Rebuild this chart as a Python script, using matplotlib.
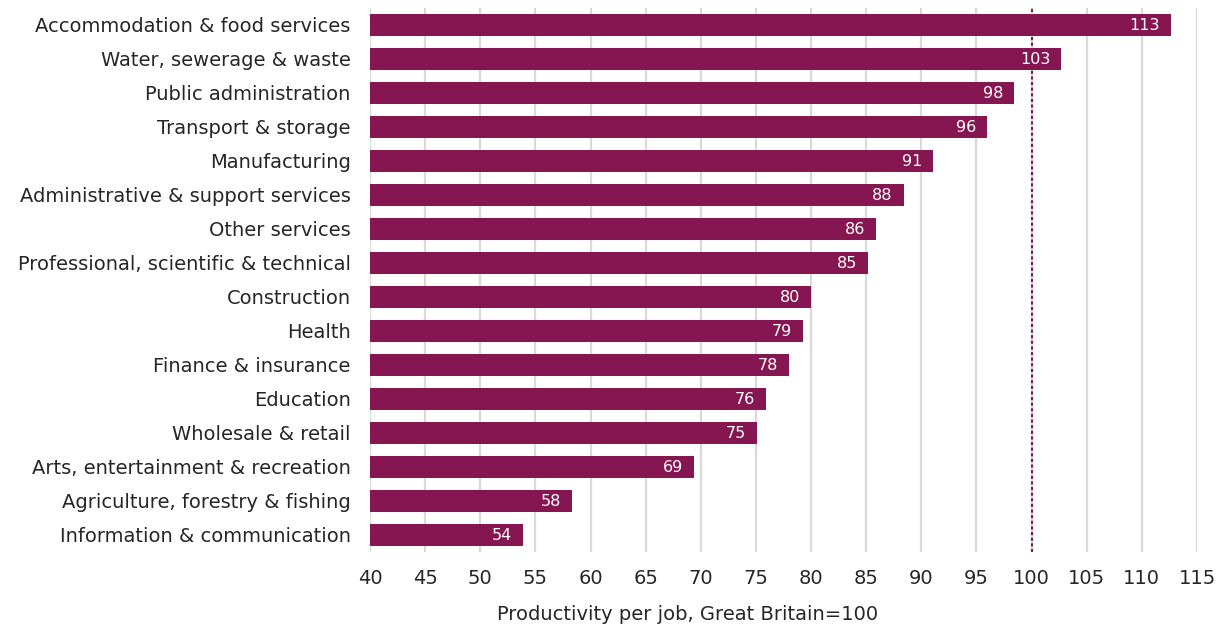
import numpy as np
import matplotlib.pyplot as plt

sectors = ['Accommodation & food services', 'Water, sewerage & waste',
           'Public administration', 'Transport & storage', 'Manufacturing',
           'Administrative & support services', 'Other services',
           'Professional, scientific & technical', 'Construction', 'Health',
           'Finance & insurance', 'Education', 'Wholesale & retail',
           'Arts, entertainment & recreation', 'Agriculture, forestry & fishing',
           'Information & communication']
productivity = [112.6, 102.7, 98.4, 96.0, 91.1, 88.4, 85.9, 85.2,
                80.0, 79.3, 78.0, 75.9, 75.1, 69.4, 58.3, 53.9]
gb_level = 100
xticks = list(range(40, 116, 5))

maroon = '#861651'
text_col = '#262626'
plt.rcParams['font.family'] = ['DejaVu Sans']

fig = plt.figure(figsize=(12.21, 6.25), dpi=100)
ax = fig.add_axes([370 / 1221, 1 - 552 / 625, (1197 - 370) / 1221, 544 / 625])

y = np.arange(len(sectors))
ax.barh(y, np.array(productivity) - 40, left=40, height=0.65, color=maroon, zorder=3)
ax.axvline(gb_level, color=maroon, ls=(0, (1.5, 1.2)), lw=1.5, zorder=2)

for yi, v in zip(y, productivity):
    ax.text(v - 1.0, yi, f'{v:.0f}', ha='right', va='center',
            color='white', fontsize=11.5, zorder=4)

ax.set_xlim(40, 115)
ax.set_ylim(len(sectors) - 0.5, -0.5)
ax.set_yticks(y)
ax.set_yticklabels(sectors, fontsize=14, color=text_col)
ax.set_xticks(xticks)
ax.set_xticklabels([str(t) for t in xticks], fontsize=14, color=text_col)
ax.tick_params(axis='both', length=0)
ax.tick_params(axis='x', pad=12)
ax.tick_params(axis='y', pad=14)
ax.grid(axis='x', color='#d9d9d9', lw=1.6, zorder=0)
for s in ax.spines.values():
    s.set_visible(False)

fig.text(688 / 1221, 1 - 614 / 625, 'Productivity per job, Great Britain=100',
         ha='center', va='center', fontsize=14, color=text_col)

fig.savefig('out.png', dpi=100)
